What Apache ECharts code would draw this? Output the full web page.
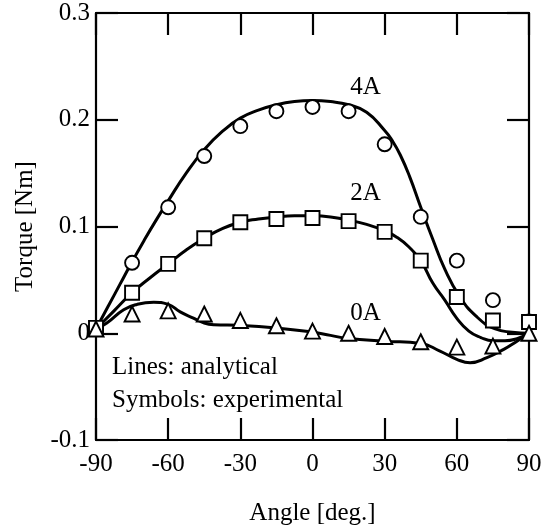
<!DOCTYPE html>
<html>
<head>
<meta charset="utf-8">
<script src="https://cdn.jsdelivr.net/npm/echarts@6/dist/echarts.min.js"></script>
<style>
  html, body { margin: 0; padding: 0; background: #fff; }
  #chart { width: 551px; height: 531px; }
</style>
</head>
<body>
<div id="chart"></div>
<script>
// Measured torque (symbols) at each rotor angle
const angles = [-90, -75, -60, -45, -30, -15, 0, 15, 30, 45, 60, 75, 90];
const exp4A = [0.004, 0.066, 0.118, 0.166, 0.194, 0.208, 0.212, 0.208, 0.177, 0.109, 0.068, 0.031, 0.011];
const exp2A = [0.005, 0.038, 0.065, 0.089, 0.104, 0.107, 0.108, 0.105, 0.095, 0.068, 0.034, 0.012, 0.0105];
const exp0A = [0.004, 0.018, 0.021, 0.018, 0.012, 0.007, 0.002, 0.000, -0.003, -0.008, -0.013, -0.012, 0.000];

// Analytical torque curves (lines)
const ang4A = [-90, -85, -80, -75, -70, -65, -60, -52.5, -45, -37.5, -30, -22.5, -15, -7.5, 0, 7.5, 15, 22.5, 30, 33, 36.5, 40.5, 45, 50, 55, 61, 68, 76, 83, 90];
const ana4A = [0.004, 0.025, 0.046, 0.067, 0.087, 0.106, 0.124, 0.150, 0.172, 0.189, 0.2015, 0.209, 0.214, 0.217, 0.218, 0.217, 0.214, 0.207, 0.190, 0.181, 0.167, 0.146, 0.118, 0.088, 0.060, 0.035, 0.016, 0.004, 0.001, 0.000];

const ang2A = [-90, -82.5, -75, -67.5, -60, -52.5, -45, -37.5, -30, -22.5, -15, -7.5, 0, 7.5, 15, 22.5, 30, 35, 40, 45, 50, 55, 60, 65, 70, 75, 80, 85, 90];
const ana2A = [0.004, 0.021, 0.038, 0.052, 0.065, 0.078, 0.089, 0.098, 0.104, 0.107, 0.109, 0.110, 0.110, 0.109, 0.106, 0.102, 0.096, 0.090, 0.081, 0.068, 0.047, 0.031, 0.014, 0.002, -0.004, -0.007, -0.007, -0.005, 0.000];

const ang0A = [-90, -85.5, -78.5, -73, -66, -60, -55, -49.5, -45, -41, -30, -15, 0, 7.5, 15, 30, 45, 53, 60, 65.5, 72.5, 79.5, 85, 90];
const ana0A = [0.004, 0.0096, 0.022, 0.027, 0.029, 0.027, 0.020, 0.0142, 0.0096, 0.008, 0.0074, 0.005, 0.001, -0.002, -0.005, -0.0074, -0.0096, -0.0167, -0.0244, -0.0276, -0.0229, -0.0151, -0.0074, 0.000];

// Curve labels
const curveNames = ['4A', '2A', '0A'];
const curveNameAngle = [22, 22, 22];
const curveNameTorque = [0.230, 0.131, 0.0186];

// Axis ticks
const xTicks = { min: -90, max: 90, step: 30 };
const yTicks = { min: -0.1, max: 0.3, step: 0.1 };

const FONT = '"Liberation Serif", "Times New Roman", serif';
const zip = (xs, ys) => xs.map((x, i) => [x, ys[i]]);

const axisLine = { show: true, onZero: false, lineStyle: { color: '#000', width: 2.2 } };
const axisTick = { show: true, inside: true, length: 22, lineStyle: { color: '#000', width: 2.2 } };
const labelStyle = { color: '#000', fontFamily: FONT, fontSize: 25 };

function curve(xs, ys) {
  return {
    type: 'line', data: zip(xs, ys), smooth: 0.5,
    showSymbol: false, symbol: 'none', silent: true, z: 2,
    lineStyle: { color: '#000', width: 3 }
  };
}
function markers(ys, symbol, size, z) {
  return {
    type: 'scatter', data: zip(angles, ys), symbol: symbol, symbolSize: size, z: z,
    itemStyle: { color: '#fff', borderColor: '#000', borderWidth: 1.9, opacity: 1 }
  };
}

const chart = echarts.init(document.getElementById('chart'), null, { renderer: 'canvas' });
chart.setOption({
  animation: false,
  backgroundColor: '#fff',
  grid: { left: 96, right: 22, top: 13, bottom: 88, containLabel: false },
  xAxis: [
    {
      type: 'value', position: 'bottom', min: xTicks.min, max: xTicks.max, interval: xTicks.step,
      axisLine, axisTick, splitLine: { show: false },
      axisLabel: Object.assign({ margin: 12 }, labelStyle),
      name: 'Angle [deg.]', nameLocation: 'middle', nameGap: 61,
      nameTextStyle: labelStyle
    },
    {
      type: 'value', position: 'top', min: xTicks.min, max: xTicks.max, interval: xTicks.step,
      axisLine, axisTick, splitLine: { show: false }, axisLabel: { show: false }
    }
  ],
  yAxis: [
    {
      type: 'value', position: 'left', min: yTicks.min, max: yTicks.max, interval: yTicks.step,
      axisLine, axisTick, splitLine: { show: false },
      axisLabel: Object.assign({ margin: 6 }, labelStyle),
      name: 'Torque [Nm]', nameLocation: 'middle', nameGap: 58,
      nameTextStyle: labelStyle
    },
    {
      type: 'value', position: 'right', min: yTicks.min, max: yTicks.max, interval: yTicks.step,
      axisLine, axisTick, splitLine: { show: false }, axisLabel: { show: false }
    }
  ],
  series: [
    curve(ang4A, ana4A),
    curve(ang2A, ana2A),
    curve(ang0A, ana0A),
    markers(exp4A, 'circle', 14, 3),
    markers(exp2A, 'rect', 14, 4),
    markers(exp0A, 'triangle', 15, 5),
    {
      type: 'scatter', symbolSize: 0, silent: true, z: 6,
      itemStyle: { color: '#000', opacity: 1 },
      data: curveNames.map((n, i) => ({ name: n, value: [curveNameAngle[i], curveNameTorque[i]] })),
      label: Object.assign({
        show: true, position: 'inside', formatter: p => p.name,
        textBorderWidth: 0, textBorderColor: 'transparent', opacity: 1
      }, labelStyle)
    }
  ],
  graphic: [
    {
      type: 'text', left: 112, top: 351, z: 10,
      style: {
        text: 'Lines: analytical\nSymbols: experimental',
        fill: '#000', font: '25px ' + FONT, lineHeight: 33
      }
    }
  ]
});
</script>
</body>
</html>
